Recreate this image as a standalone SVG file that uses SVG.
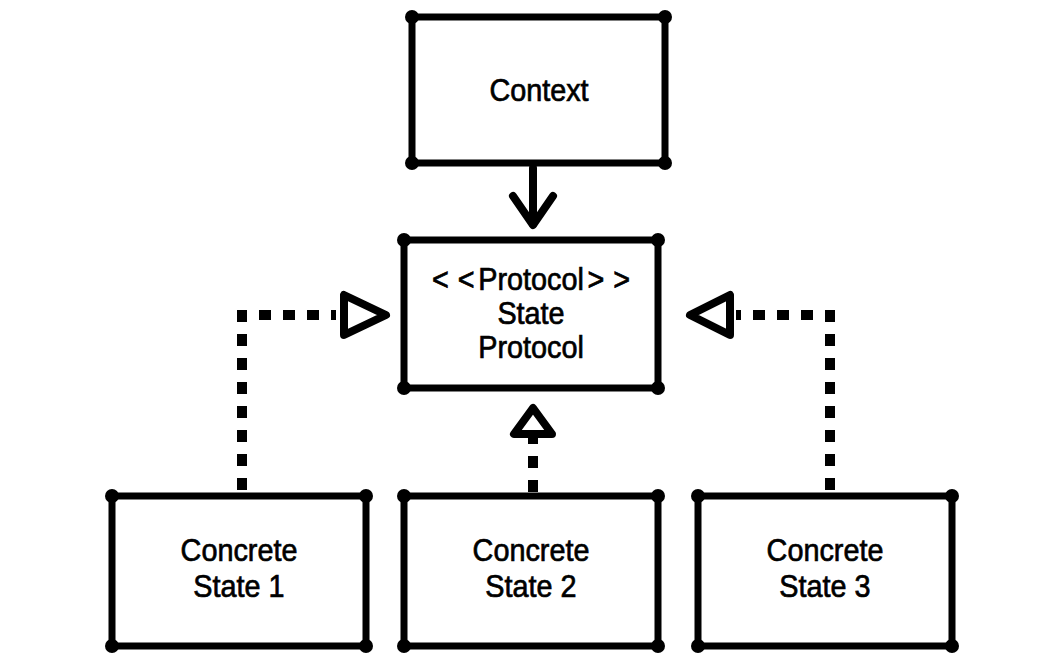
<svg xmlns="http://www.w3.org/2000/svg" width="1052" height="672" viewBox="0 0 1052 672">
<style>
.box{fill:#fff;stroke:#000;stroke-width:7;stroke-linejoin:round}
.dot{fill:#000}
.lbl{font-family:"Liberation Sans",Arial,sans-serif;font-size:32px;fill:#000;stroke:#000;stroke-width:0.7;text-anchor:middle}
.dash{fill:none;stroke:#000;stroke-width:10;stroke-dasharray:12 12}
.solid{fill:none;stroke:#000;stroke-width:8;stroke-linecap:round;stroke-linejoin:round}
.tri{fill:#fff;stroke:#000;stroke-width:8;stroke-linejoin:round}
</style>
<rect width="1052" height="672" fill="#fff"/>
<g id="connectors">
<path class="solid" d="M533,168 V224"/>
<path class="solid" d="M513,196 L533,225 L553,196"/>
<path class="dash" d="M242,490 V315 H336"/>
<polygon class="tri" points="344,295 344,335 386,315"/>
<path class="dash" d="M830,490 V315 H736"/>
<polygon class="tri" points="730,295 730,335 690,315"/>
<path class="dash" d="M533,492 V434"/>
<polygon class="tri" points="514,434 552,434 533,408"/>
</g>
<g id="context">
<rect class="box" x="412" y="17" width="253" height="146"/>
<circle class="dot" cx="412" cy="17" r="7"/><circle class="dot" cx="665" cy="17" r="7"/><circle class="dot" cx="412" cy="163" r="7"/><circle class="dot" cx="665" cy="163" r="7"/>
<text class="lbl" transform="translate(539,101) scale(0.9,1)">Context</text>
</g>
<g id="protocol">
<rect class="box" x="404" y="240" width="254" height="148"/>
<circle class="dot" cx="404" cy="240" r="7"/><circle class="dot" cx="658" cy="240" r="7"/><circle class="dot" cx="404" cy="388" r="7"/><circle class="dot" cx="658" cy="388" r="7"/>
<text class="lbl" transform="translate(531,290) scale(0.9,1)"><tspan>&lt;</tspan><tspan dx="10">&lt;</tspan><tspan dx="4">Protocol</tspan><tspan dx="4">&gt;</tspan><tspan dx="10">&gt;</tspan></text>
<text class="lbl" transform="translate(531,324) scale(0.9,1)">State</text>
<text class="lbl" transform="translate(531,358) scale(0.9,1)">Protocol</text>
</g>
<g id="state1">
<rect class="box" x="112" y="496" width="254" height="150"/>
<circle class="dot" cx="112" cy="496" r="7"/><circle class="dot" cx="366" cy="496" r="7"/><circle class="dot" cx="112" cy="646" r="7"/><circle class="dot" cx="366" cy="646" r="7"/>
<text class="lbl" transform="translate(239,561) scale(0.9,1)">Concrete</text>
<text class="lbl" transform="translate(239,597) scale(0.9,1)">State 1</text>
</g>
<g id="state2">
<rect class="box" x="404" y="496" width="254" height="150"/>
<circle class="dot" cx="404" cy="496" r="7"/><circle class="dot" cx="658" cy="496" r="7"/><circle class="dot" cx="404" cy="646" r="7"/><circle class="dot" cx="658" cy="646" r="7"/>
<text class="lbl" transform="translate(531,561) scale(0.9,1)">Concrete</text>
<text class="lbl" transform="translate(531,597) scale(0.9,1)">State 2</text>
</g>
<g id="state3">
<rect class="box" x="698" y="496" width="254" height="150"/>
<circle class="dot" cx="698" cy="496" r="7"/><circle class="dot" cx="952" cy="496" r="7"/><circle class="dot" cx="698" cy="646" r="7"/><circle class="dot" cx="952" cy="646" r="7"/>
<text class="lbl" transform="translate(825,561) scale(0.9,1)">Concrete</text>
<text class="lbl" transform="translate(825,597) scale(0.9,1)">State 3</text>
</g>
</svg>
